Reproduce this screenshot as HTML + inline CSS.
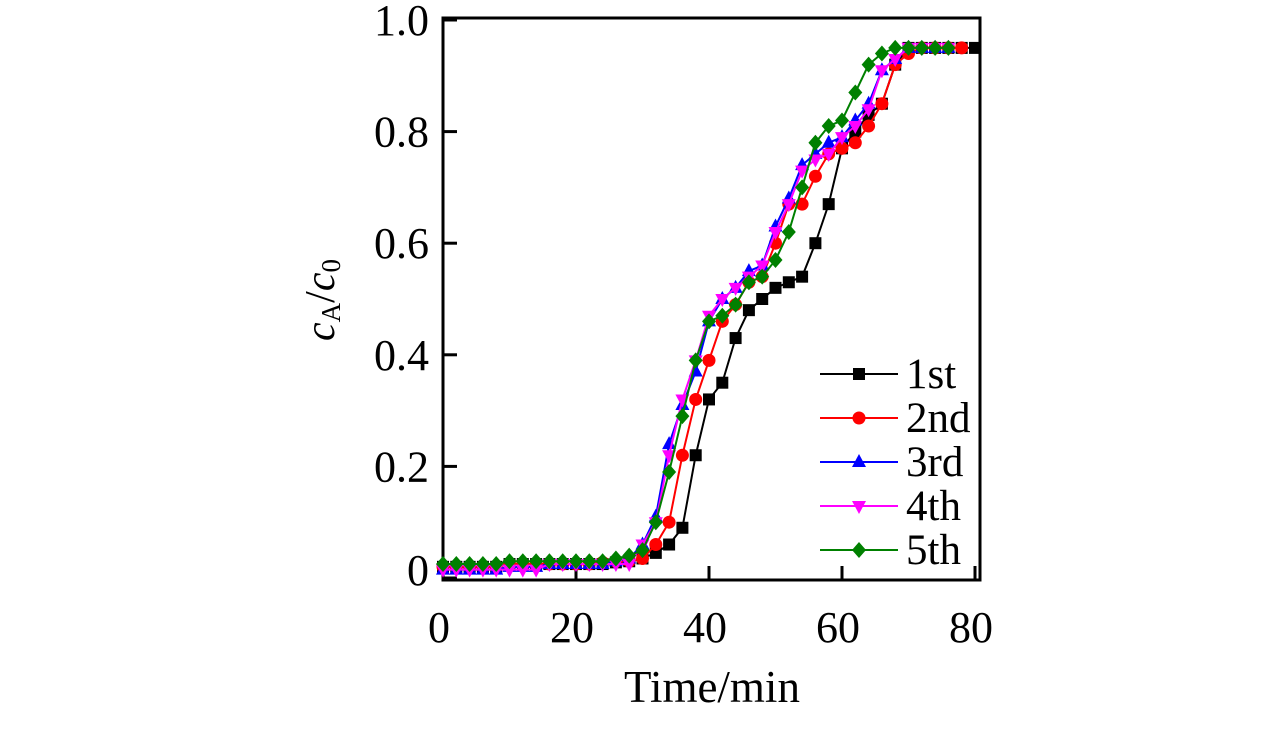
<!DOCTYPE html>
<html><head><meta charset="utf-8"><style>
body{margin:0;background:#fff;width:1283px;height:748px;overflow:hidden}
text{font-family:"Liberation Serif",serif;fill:#000}
</style></head><body>
<svg width="1283" height="748">
<g id="plot"></g>
</svg>
<script>
const xs=[0,2,4,6,8,10,12,14,16,18,20,22,24,26,28,30,32,34,36,38,40,42,44,46,48,50,52,54,56,58,60,62,64,66,68,70,72,74,76,78,80];
const s1=[0.02,0.02,0.02,0.02,0.02,0.025,0.025,0.025,0.025,0.025,0.025,0.025,0.025,0.028,0.03,0.035,0.045,0.06,0.09,0.22,0.32,0.35,0.43,0.48,0.50,0.52,0.53,0.54,0.60,0.67,0.77,0.80,0.83,0.85,0.92,0.95,0.95,0.95,0.95,0.95,0.95];
const s2=[0.02,0.02,0.02,0.02,0.02,0.025,0.025,0.025,0.025,0.025,0.025,0.025,0.028,0.03,0.03,0.035,0.06,0.10,0.22,0.32,0.39,0.46,0.49,0.53,0.54,0.60,0.67,0.67,0.72,0.76,0.77,0.78,0.81,0.85,0.92,0.94,0.95,0.95,0.95,0.95];
const s3=[0.015,0.015,0.015,0.015,0.015,0.02,0.02,0.02,0.025,0.025,0.025,0.025,0.025,0.03,0.035,0.06,0.11,0.24,0.31,0.37,0.46,0.50,0.52,0.55,0.56,0.63,0.68,0.74,0.76,0.78,0.79,0.82,0.85,0.91,0.93,0.95,0.95,0.95,0.95];
const s4=[0.015,0.015,0.015,0.015,0.015,0.015,0.015,0.015,0.025,0.025,0.025,0.025,0.025,0.025,0.025,0.06,0.10,0.22,0.32,0.39,0.47,0.50,0.52,0.54,0.56,0.62,0.67,0.73,0.75,0.76,0.79,0.81,0.84,0.91,0.93,0.95,0.95,0.95,0.95];
const s5=[0.025,0.025,0.025,0.025,0.025,0.03,0.03,0.03,0.03,0.03,0.03,0.03,0.03,0.035,0.04,0.05,0.10,0.19,0.29,0.39,0.46,0.47,0.49,0.53,0.54,0.57,0.62,0.70,0.78,0.81,0.82,0.87,0.92,0.94,0.95,0.95,0.95,0.95,0.95];
const xTicks=[0,20,40,60,80];
const yTicks=[0,0.2,0.4,0.6,0.8,1.0];
const yTickLabels=["0","0.2","0.4","0.6","0.8","1.0"];
const seriesNames=["1st","2nd","3rd","4th","5th"];
const L=443,R=980,T=18,B=580;
const X=v=>443+v*6.65;
const Y=v=>578-v*558;
const NS="http://www.w3.org/2000/svg";
const g=document.getElementById('plot');
function mk(t,a,p){const e=document.createElementNS(NS,t);for(const k in a)e.setAttribute(k,a[k]);(p||g).appendChild(e);return e;}
const box=mk('rect',{x:L,y:T,width:R-L,height:B-T,fill:'none',stroke:'#000','stroke-width':3});


xTicks.forEach(v=>{
 const l=mk('line',{x1:X(v),x2:X(v),y1:B,y2:B-14,stroke:'#000','stroke-width':3});
 
 
 const t=mk('text',{x:X(v)-4,y:B+62,'text-anchor':'middle','font-size':44});t.textContent=v;
 
 
});
yTicks.forEach((v,i)=>{
 const l=mk('line',{x1:L,x2:L+14,y1:Y(v),y2:Y(v),stroke:'#000','stroke-width':3});
 
 
 const t=mk('text',{x:L-14,y:Y(v)+15-(i==0?8:0),'text-anchor':'end','font-size':44});t.textContent=yTickLabels[i];
 
 
});
const xt=mk('text',{x:712,y:702,'text-anchor':'middle','font-size':45});xt.textContent='Time/min';


const yt=mk('text',{transform:'translate(334,300) rotate(-90)','text-anchor':'middle','font-size':42});
yt.innerHTML='<tspan font-style="italic">c</tspan><tspan font-size="27" dy="6">A</tspan><tspan dy="-6">/</tspan><tspan font-style="italic">c</tspan><tspan font-size="27" dy="6">0</tspan>';


const colors=['#000','#f00','#00f','#f0f','#008000'];
function marker(k,x,y,p){
 const c=colors[k];let e;
 if(k==0)e=mk('rect',{x:x-6,y:y-6,width:12,height:12,fill:c},p);
 else if(k==1)e=mk('circle',{cx:x,cy:y,r:6.5,fill:c},p);
 else if(k==2)e=mk('polygon',{points:`${x},${y-8} ${x-7},${y+5} ${x+7},${y+5}`,fill:c},p);
 else if(k==3)e=mk('polygon',{points:`${x},${y+8} ${x-7},${y-5} ${x+7},${y-5}`,fill:c},p);
 else e=mk('polygon',{points:`${x},${y-8} ${x+7},${y} ${x},${y+8} ${x-7},${y}`,fill:c},p);
 return e;
}
[s1,s2,s3,s4,s5].forEach((s,k)=>{
 const sg=mk('g',{});
 
 
 const pts=s.map((v,i)=>X(xs[i])+','+Y(v)).join(' ');
 mk('polyline',{points:pts,fill:'none',stroke:colors[k],'stroke-width':2},sg);
 s.forEach((v,i)=>{const m=marker(k,X(xs[i]),Y(v),sg);
  
  });
});
seriesNames.forEach((n,k)=>{
 const y=374+k*44;
 const lg=mk('g',{});
 
 
 mk('line',{x1:820,x2:898,y1:y,y2:y,stroke:colors[k],'stroke-width':2},lg);
 marker(k,859,y,lg);
 const t=mk('text',{x:906,y:y+14,'font-size':43},lg);t.textContent=n;
});
</script>
</body></html>
